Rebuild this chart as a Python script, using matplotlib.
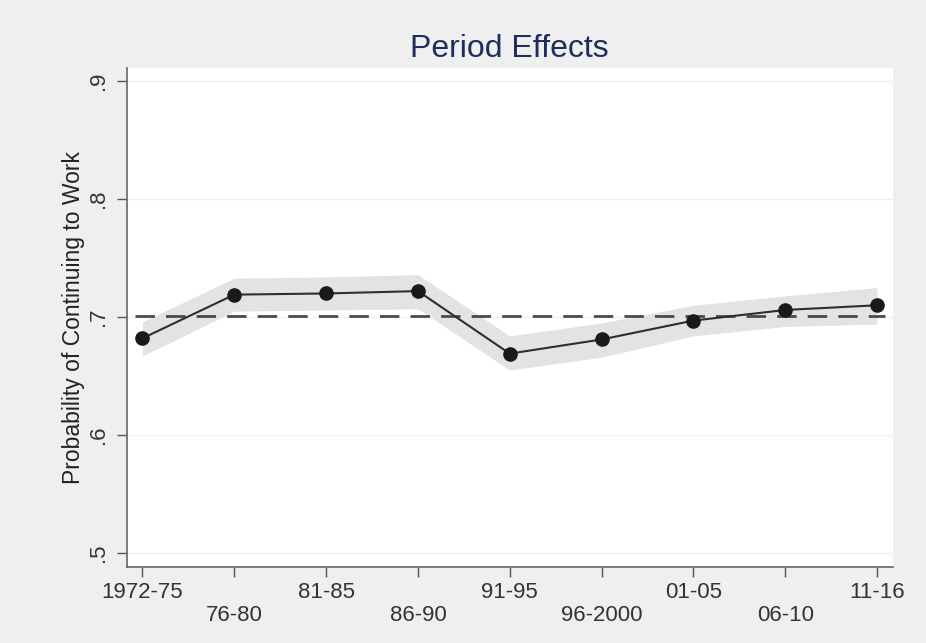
import matplotlib.pyplot as plt
import numpy as np

plt.rcParams['font.family'] = ['Liberation Sans', 'DejaVu Sans']

periods = ['1972-75', '76-80', '81-85', '86-90', '91-95', '96-2000', '01-05', '06-10', '11-16']
prob = [0.682, 0.719, 0.720, 0.722, 0.669, 0.681, 0.697, 0.706, 0.710]
ci_low = [0.667, 0.705, 0.706, 0.707, 0.655, 0.666, 0.684, 0.692, 0.694]
ci_high = [0.696, 0.733, 0.734, 0.736, 0.684, 0.695, 0.710, 0.718, 0.725]
mean_line = 0.701

yticks = [0.5, 0.6, 0.7, 0.8, 0.9]
ytick_labels = ['.5', '.6', '.7', '.8', '.9']

bg = '#efefef'
fig = plt.figure(figsize=(9.26, 6.43), dpi=100, facecolor=bg)
ax = fig.add_axes([0.137, 0.118, 0.827, 0.776])
ax.set_facecolor('white')

x = np.arange(len(periods))

for yv in yticks:
    ax.axhline(yv, color='#eef2f3', lw=1.0, zorder=0)

ax.fill_between(x, ci_low, ci_high, color='#e3e3e3', lw=0, zorder=1)
ax.axhline(mean_line, xmin=0.01, xmax=0.99, color='#4a4a4a', lw=2.0,
           dashes=(7, 4), zorder=2)
ax.plot(x, prob, color='#2e2e2e', lw=1.5, marker='o', markersize=9.5,
        markerfacecolor='#1a1a1a', markeredgecolor='#1a1a1a', zorder=3)

ax.set_xlim(-0.17, 8.17)
ax.set_ylim(0.488, 0.911)

ax.set_yticks(yticks)
ax.set_yticklabels(ytick_labels, rotation=90, va='center', fontsize=16, color='#333333')
ax.set_xticks(x)
labels = []
for i, p in enumerate(periods):
    labels.append(p if i % 2 == 0 else '\n' + p)
ax.set_xticklabels(labels, fontsize=16, color='#333333', linespacing=1.15)

ax.tick_params(axis='both', direction='out', length=7, width=1, color='#555555')
ax.tick_params(axis='y', pad=6)
for side in ['top', 'right']:
    ax.spines[side].set_visible(False)
for side in ['left', 'bottom']:
    ax.spines[side].set_color('#666666')
    ax.spines[side].set_linewidth(1.2)

ax.set_ylabel('Probability of Continuing to Work', fontsize=16.5, color='#222222', labelpad=2)
ax.set_title('Period Effects', fontsize=23, color='#1f2d5a', pad=8)

fig.savefig('out.png', dpi=100, facecolor=bg)
